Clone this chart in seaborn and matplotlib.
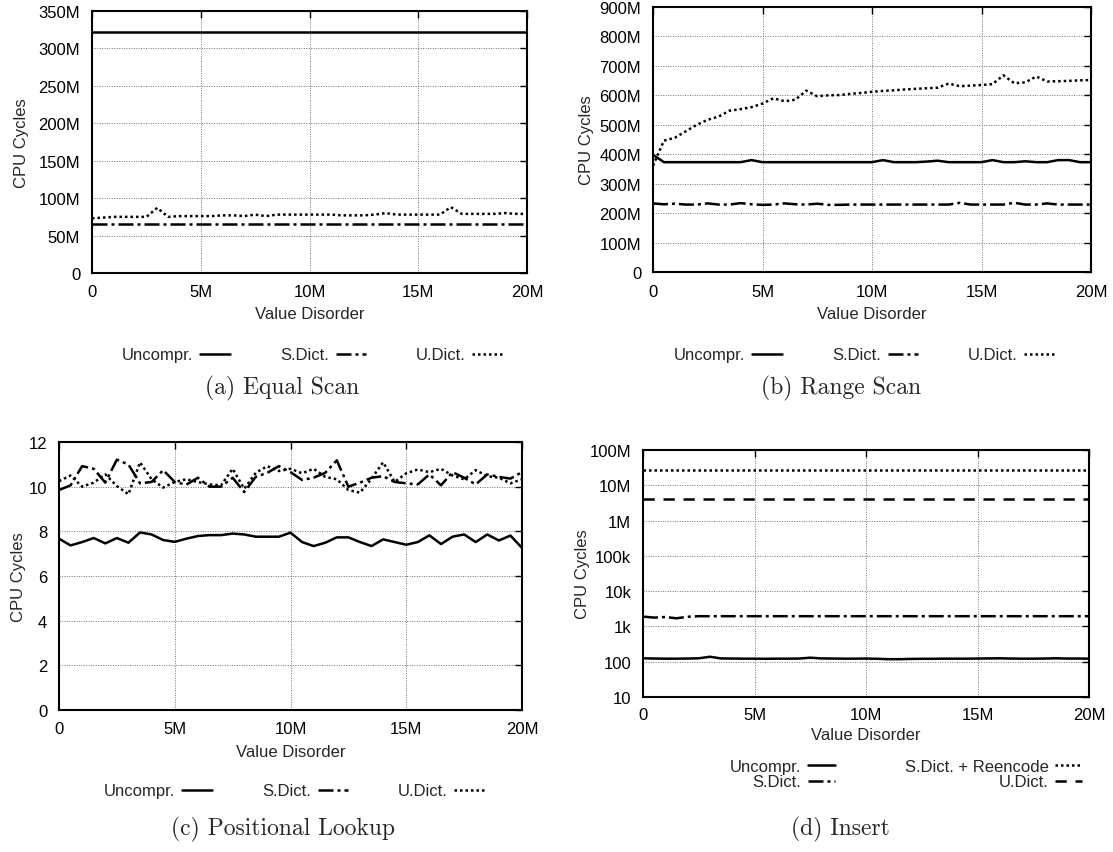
import matplotlib
matplotlib.use("Agg")
import matplotlib.pyplot as plt
import seaborn as sns
from matplotlib import font_manager
from matplotlib.lines import Line2D
from matplotlib.ticker import FixedLocator, FixedFormatter, LogLocator, NullFormatter

# ---------------- data ----------------
x_disorder = [0.0, 0.5, 1.0, 1.5, 2.0, 2.5, 3.0, 3.5, 4.0, 4.5, 5.0, 5.5, 6.0, 6.5,
              7.0, 7.5, 8.0, 8.5, 9.0, 9.5, 10.0, 10.5, 11.0, 11.5, 12.0, 12.5, 13.0,
              13.5, 14.0, 14.5, 15.0, 15.5, 16.0, 16.5, 17.0, 17.5, 18.0, 18.5, 19.0,
              19.5, 20.0]  # millions

# (a) Equal Scan, millions of cycles
unc_a = [322, 322, 322, 322, 322, 322, 322, 322, 322, 322, 322, 322, 322, 322,
         322, 322, 322, 322, 322, 322, 322, 322, 322, 322, 322, 322, 322, 322,
         322, 322, 322, 322, 322, 322, 322, 322, 322, 322, 322, 322, 322]
sdict_a = [65, 65, 65, 65, 65, 65, 65, 65, 65, 65, 65, 65, 65, 65, 65, 65, 65,
           65, 65, 65, 65, 65, 65, 65, 65, 65, 65, 65, 65, 65, 65, 65, 65, 65,
           65, 65, 65, 65, 65, 65, 65]
udict_a = [73, 74, 75, 75, 75, 75, 87, 75, 76, 76, 76, 76, 77, 77, 76, 78, 76,
           78, 78, 78, 78, 78, 78, 77, 77, 77, 78, 80, 78, 78, 78, 78, 78, 88,
           79, 79, 79, 79, 80, 79, 79]

# (b) Range Scan, millions of cycles
unc_b = [398, 373, 373, 373, 373, 373, 373, 373, 373, 380, 373, 373, 373, 373,
         373, 373, 373, 373, 373, 373, 373, 380, 373, 373, 373, 375, 378, 373,
         373, 373, 373, 380, 373, 373, 376, 373, 373, 380, 380, 373, 373]
sdict_b = [233, 230, 232, 229, 229, 233, 229, 229, 234, 230, 228, 229, 233, 230,
           229, 232, 228, 228, 229, 229, 229, 229, 229, 229, 229, 229, 229, 229,
           235, 229, 229, 229, 229, 235, 229, 229, 233, 229, 229, 229, 229]
udict_b = [361, 446, 456, 478, 500, 517, 528, 548, 553, 560, 572, 590, 580, 585,
           616, 597, 600, 601, 605, 608, 612, 615, 617, 620, 622, 624, 626, 640,
           631, 633, 635, 638, 668, 641, 644, 664, 647, 648, 649, 651, 652]

# (c) Positional Lookup, cycles
unc_c = [7.67, 7.37, 7.52, 7.70, 7.46, 7.70, 7.49, 7.95, 7.86, 7.61, 7.53, 7.67,
         7.79, 7.83, 7.83, 7.90, 7.86, 7.76, 7.76, 7.76, 7.94, 7.52, 7.34, 7.49,
         7.73, 7.73, 7.52, 7.34, 7.64, 7.52, 7.40, 7.52, 7.82, 7.43, 7.76, 7.86,
         7.52, 7.86, 7.59, 7.81, 7.26]
sdict_c = [9.85, 10.06, 10.92, 10.80, 10.18, 11.21, 10.99, 10.15, 10.21, 10.74,
           10.21, 10.09, 10.40, 10.00, 10.00, 10.40, 9.76, 10.44, 10.62, 10.92,
           10.65, 10.30, 10.40, 10.62, 11.18, 10.00, 10.18, 10.40, 10.47, 10.21,
           10.15, 10.10, 10.55, 10.06, 10.65, 10.40, 10.10, 10.55, 10.44, 10.36,
           10.65]
udict_c = [10.25, 10.50, 10.00, 10.18, 10.55, 10.03, 9.66, 11.09, 10.33, 9.96,
           10.21, 10.33, 10.21, 10.10, 10.06, 10.80, 9.91, 10.62, 10.92, 10.70,
           10.80, 10.60, 10.80, 10.44, 10.33, 9.85, 9.73, 10.36, 11.09, 10.21,
           10.60, 10.77, 10.65, 10.80, 10.50, 10.33, 10.74, 10.47, 10.40, 10.15,
           10.33]

# (d) Insert, cycles
unc_d = [125, 123, 122, 122, 123, 125, 138, 124, 123, 122, 122, 121, 122, 122,
         123, 130, 124, 123, 122, 122, 123, 121, 118, 118, 120, 121, 121, 122,
         122, 122, 123, 124, 125, 123, 122, 122, 123, 125, 123, 123, 122]
sdict_d = [1900, 1780, 1850, 1700, 1880, 1950, 1950, 1950, 1950, 1950, 1950,
           1950, 1950, 1950, 1950, 1950, 1950, 1950, 1950, 1950, 1950, 1950,
           1950, 1950, 1950, 1950, 1950, 1950, 1950, 1950, 1950, 1950, 1950,
           1950, 1950, 1950, 1950, 1950, 1950, 1950, 1950]
reenc_d = [28e6, 28e6, 28e6, 28e6, 28e6, 28e6, 28e6, 28e6, 28e6, 28e6, 28e6,
           28e6, 28e6, 28e6, 28e6, 28e6, 28e6, 28e6, 28e6, 28e6, 28e6, 28e6,
           28e6, 28e6, 28e6, 28e6, 28e6, 28e6, 28e6, 28e6, 28e6, 28e6, 28e6,
           28e6, 28e6, 28e6, 28e6, 28e6, 28e6, 28e6, 28e6]
udict_d = [4.0e6, 4.0e6, 4.0e6, 4.0e6, 4.0e6, 4.0e6, 4.0e6, 4.0e6, 4.0e6, 4.0e6,
           4.0e6, 4.0e6, 4.0e6, 4.0e6, 4.0e6, 4.0e6, 4.0e6, 4.0e6, 4.0e6, 4.0e6,
           4.0e6, 4.0e6, 4.0e6, 4.0e6, 4.0e6, 4.0e6, 4.0e6, 4.0e6, 4.0e6, 4.0e6,
           4.0e6, 4.0e6, 4.0e6, 4.0e6, 4.0e6, 4.0e6, 4.0e6, 4.0e6, 4.0e6, 4.0e6,
           4.0e6]

# tick labels
x_ticks = [0, 5, 10, 15, 20]
x_ticklabels = ["0", "5M", "10M", "15M", "20M"]
y_ticks_a = [0, 50, 100, 150, 200, 250, 300, 350]
y_ticklabels_a = ["0", "50M", "100M", "150M", "200M", "250M", "300M", "350M"]
y_ticks_b = [0, 100, 200, 300, 400, 500, 600, 700, 800, 900]
y_ticklabels_b = ["0", "100M", "200M", "300M", "400M", "500M", "600M", "700M", "800M", "900M"]
y_ticks_c = [0, 2, 4, 6, 8, 10, 12]
y_ticklabels_c = ["0", "2", "4", "6", "8", "10", "12"]
y_ticks_d = [10, 100, 1e3, 1e4, 1e5, 1e6, 1e7, 1e8]
y_ticklabels_d = ["10", "100", "1k", "10k", "100k", "1M", "10M", "100M"]

captions = ["(a) Equal Scan", "(b) Range Scan", "(c) Positional Lookup", "(d) Insert"]
xlab = "Value Disorder"
ylab = "CPU Cycles"

# ---------------- style ----------------
sns.set_theme(style="white")
avail = {f.name for f in font_manager.fontManager.ttflist}
plt.rcParams["font.family"] = ["Liberation Sans", "DejaVu Sans"]
CAPFONT = "cmr10" if "cmr10" in avail else "DejaVu Serif"

FS = 12
LW = 1.8
SOLID = "-"
DASHDOT = (0, (6, 1.6, 1.2, 1.6))
DOTTED = (0, (1, 1.2))
DASHED = (0, (4.5, 3.5))

W, H = 1113, 853
fig = plt.figure(figsize=(W / 100, H / 100), dpi=100)
fig.patch.set_facecolor("white")


def add_ax(L, T, R, B):
    return fig.add_axes([L / W, 1 - B / H, (R - L) / W, (B - T) / H])


def style_ax(ax, L, T, R, B, yt, ytl, ylim, tick_top_px, xlab_top_px, ylab_x_px, log=False):
    ax.set_facecolor("white")
    ax.set_xlim(0, 20)
    ax.set_ylim(*ylim)
    if log:
        ax.set_yscale("log")
        ax.yaxis.set_minor_locator(LogLocator(base=10, subs=range(2, 10)))
        ax.yaxis.set_minor_formatter(NullFormatter())
    ax.xaxis.set_major_locator(FixedLocator(x_ticks))
    ax.xaxis.set_major_formatter(FixedFormatter(x_ticklabels))
    ax.yaxis.set_major_locator(FixedLocator(yt))
    ax.yaxis.set_major_formatter(FixedFormatter(ytl))
    ax.grid(True, which="major", color="0.45", lw=0.7, linestyle=(0, (1, 1.5)))
    for s in ax.spines.values():
        s.set_color("black")
        s.set_linewidth(1.5)
        s.set_visible(True)
    ax.tick_params(axis="both", which="major", direction="in", length=5, width=1,
                   top=True, right=True, labelsize=FS, colors="black")
    ax.tick_params(axis="y", which="minor", direction="in", length=3, width=0.8,
                   left=True, right=True)
    ax.tick_params(axis="x", pad=(tick_top_px - B) * 0.72)
    ax.tick_params(axis="y", pad=8.5)
    ax.set_xlabel(xlab, fontsize=FS)
    ax.set_ylabel(ylab, fontsize=FS)
    h = B - T
    w = R - L
    ax.xaxis.set_label_coords(0.5, -(xlab_top_px - B) / h)
    ax.yaxis.set_label_coords((ylab_x_px - L) / w, 0.5)


def draw(ax, series):
    for vals, ls in series:
        sns.lineplot(x=x_disorder, y=vals, ax=ax, color="black", lw=LW, linestyle=ls,
                     errorbar=None, legend=False)


def legend(ax, labels, styles, cx, cy, ncol, colspacing=3.0, hl=1.8):
    handles = [Line2D([], [], color="black", lw=LW, linestyle=s) for s in styles]
    ax.legend(handles, labels, loc="center", bbox_to_anchor=(cx / W, 1 - cy / H),
              bbox_transform=fig.transFigure, ncol=ncol, frameon=False,
              markerfirst=False, fontsize=FS, handlelength=hl, handletextpad=0.4,
              columnspacing=colspacing, labelspacing=0.05, borderpad=0)


# (a)
LA = (92, 12, 527, 274)
ax_a = add_ax(*LA)
draw(ax_a, [(unc_a, SOLID), (sdict_a, DASHDOT), (udict_a, DOTTED)])
style_ax(ax_a, *LA, y_ticks_a, y_ticklabels_a, (0, 350), 285, 307, 29)
legend(ax_a, ["Uncompr.", "S.Dict.", "U.Dict."], [SOLID, DASHDOT, DOTTED], 312, 356, 3)

# (b)
LB = (653, 8, 1091, 273)
ax_b = add_ax(*LB)
draw(ax_b, [(unc_b, SOLID), (sdict_b, DASHDOT), (udict_b, DOTTED)])
style_ax(ax_b, *LB, y_ticks_b, y_ticklabels_b, (0, 900), 285, 307, 594)
legend(ax_b, ["Uncompr.", "S.Dict.", "U.Dict."], [SOLID, DASHDOT, DOTTED], 864, 356, 3)

# (c)
LC = (59, 443, 522, 711)
ax_c = add_ax(*LC)
draw(ax_c, [(unc_c, SOLID), (sdict_c, DASHDOT), (udict_c, DOTTED)])
style_ax(ax_c, *LC, y_ticks_c, y_ticklabels_c, (0, 12), 722, 745, 26)
legend(ax_c, ["Uncompr.", "S.Dict.", "U.Dict."], [SOLID, DASHDOT, DOTTED], 294, 792, 3)

# (d)
LD = (643, 451, 1089, 698)
ax_d = add_ax(*LD)
draw(ax_d, [(unc_d, SOLID), (sdict_d, DASHDOT), (reenc_d, DOTTED), (udict_d, DASHED)])
style_ax(ax_d, *LD, y_ticks_d, y_ticklabels_d, (10, 1e8), 708, 728, 590, log=True)
legend(ax_d, ["Uncompr.", "S.Dict.", "S.Dict. + Reencode", "U.Dict."],
       [SOLID, DASHDOT, DOTTED, DASHED], 906, 775, 2, colspacing=4.2, hl=1.6)

# captions
cap_pos = [(282, 388), (841, 388), (283, 829), (840, 829)]
for txt, (cx, cy) in zip(captions, cap_pos):
    fig.text(cx / W, 1 - cy / H, txt, ha="center", va="center", fontsize=17,
             family=[CAPFONT, "DejaVu Serif"])

fig.savefig("out.png", dpi=100, facecolor="white")
